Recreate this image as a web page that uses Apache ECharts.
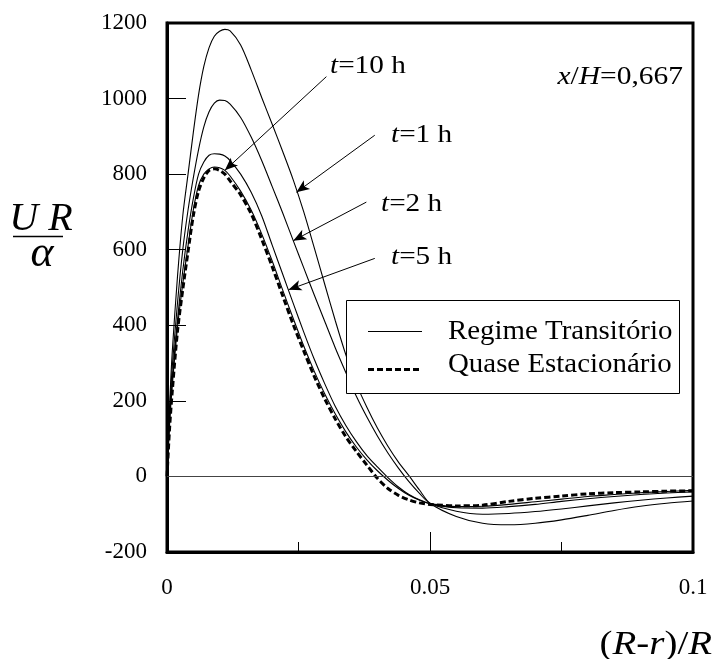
<!DOCTYPE html>
<html>
<head>
<meta charset="utf-8">
<script src="https://cdn.jsdelivr.net/npm/echarts@6/dist/echarts.min.js"></script>
<style>
html, body { margin: 0; padding: 0; background: #fff; }
#chart { width: 713px; height: 659px; }
</style>
</head>
<body>
<div id="chart"></div>
<script>
// (R-r)/R positions where the curves were read
var xs = [0, 0.0005, 0.001, 0.002, 0.003, 0.004, 0.005, 0.006, 0.007, 0.008, 0.009, 0.010, 0.011, 0.012,
          0.014, 0.016, 0.018, 0.020, 0.022, 0.024, 0.026, 0.028, 0.030, 0.032, 0.034, 0.036, 0.038,
          0.040, 0.042, 0.044, 0.046, 0.048, 0.050, 0.055, 0.060, 0.065, 0.070, 0.075, 0.080, 0.085,
          0.090, 0.095, 0.100];

// U R / alpha, regime transitorio
var t1h = [0, 190, 330, 530, 690, 800, 910, 1010, 1085, 1135, 1165, 1178, 1183, 1179,
           1142, 1076, 1003, 932, 860, 785, 700, 605, 508, 412, 322, 245, 183,
           128, 80, 38, 2, -36, -71, -106, -124, -128, -124, -115, -103, -90,
           -79, -71, -65];
var t2h = [0, 170, 290, 460, 600, 705, 790, 865, 925, 965, 988, 996, 995, 985,
           950, 898, 836, 767, 697, 624, 552, 480, 410, 340, 275, 212, 157,
           107, 62, 22, -14, -45, -71, -92, -100, -98, -93, -86, -78, -70,
           -63, -57, -52];
var t5h = [0, 150, 255, 415, 545, 650, 735, 800, 832, 850, 854, 853, 848, 836,
           800, 752, 690, 612, 535, 458, 382, 310, 245, 185, 135, 92, 55,
           25, -3, -28, -48, -62, -72, -83, -84, -80, -74, -66, -59, -53,
           -48, -44, -41];
var t10h = [0, 140, 240, 395, 510, 610, 705, 770, 800, 814, 819, 817, 810, 795,
            755, 705, 642, 570, 493, 418, 345, 278, 218, 165, 118, 78, 44,
            15, -10, -32, -50, -63, -72, -80, -79, -74, -67, -60, -53, -48,
            -43, -40, -37];
// quase estacionario
var quase = [0, 130, 225, 385, 495, 595, 690, 755, 790, 810, 814, 810, 800, 782,
             745, 695, 628, 555, 478, 402, 332, 265, 205, 152, 105, 66, 30,
             -5, -32, -50, -62, -70, -74, -78, -76, -66, -58, -52, -46, -43,
             -41, -39, -38];

// arrows: [from x, from y, to x, to y] in data units
var arrows = [
  [0.0303, 1058, 0.0110, 810],   // t=10 h
  [0.0395, 903, 0.0246, 752],    // t=1 h
  [0.0379, 726, 0.0240, 624],    // t=2 h
  [0.0395, 577, 0.0231, 494]     // t=5 h
];

var xTickLabels = {0: '0', 0.05: '0.05', 0.1: '0.1'};

function pairs(ys) {
  return xs.map(function (x, i) { return [x, ys[i]]; });
}

var serif = 'Liberation Serif';
var myChart = echarts.init(document.getElementById('chart'));

var solid = {color: '#000', width: 1.1, type: 'solid'};
var series = [t1h, t2h, t5h, t10h].map(function (ys) {
  return {
    type: 'line',
    data: pairs(ys),
    showSymbol: false,
    smooth: 0.3,
    lineStyle: solid,
    silent: true,
    z: 3
  };
});
series.push({
  type: 'line',
  data: pairs(quase),
  showSymbol: false,
  smooth: 0.3,
  lineStyle: {color: '#000', width: 3, type: [6, 3]},
  silent: true,
  z: 4
});
// arrows
series[0].markLine = {
  silent: true,
  symbol: ['none', 'arrow'],
  symbolSize: [8, 13],
  label: {show: false},
  lineStyle: {color: '#000', width: 1, type: 'solid'},
  emphasis: {disabled: true},
  data: arrows.map(function (a) {
    return [{coord: [a[0], a[1]]}, {coord: [a[2], a[3]]}];
  })
};
// zero line
series[1].markLine = {
  silent: true,
  symbol: ['none', 'none'],
  label: {show: false},
  lineStyle: {color: '#444', width: 1, type: 'solid'},
  emphasis: {disabled: true},
  data: [{yAxis: 0}]
};

function label(txt, x, y, size, sx, align) {
  return {
    type: 'text', z: 20, x: x, y: y, scaleX: sx,
    style: {
      text: txt, font: size + 'px "Liberation Serif"', fill: '#000',
      textAlign: align || 'left', textVerticalAlign: 'middle',
      rich: {i: {fontStyle: 'italic', fontSize: size, fontFamily: serif}}
    }
  };
}

var option = {
  backgroundColor: '#fff',
  animation: false,
  grid: {
    left: 167, right: 20, top: 23, bottom: 107,
    show: true, borderColor: '#000', borderWidth: 3, backgroundColor: 'transparent'
  },
  xAxis: {
    type: 'value',
    min: 0, max: 0.1, interval: 0.05,
    axisLine: {show: true, onZero: false, lineStyle: {color: '#000', width: 3}},
    axisTick: {show: true, inside: true, length: 20, lineStyle: {color: '#000', width: 1}},
    minorTick: {show: true, splitNumber: 2, length: 10, lineStyle: {color: '#000', width: 1}},
    splitLine: {show: false},
    axisLabel: {
      margin: 24, color: '#000', fontFamily: serif, fontSize: 23,
      formatter: function (v) { return xTickLabels[v] !== undefined ? xTickLabels[v] : ''; }
    }
  },
  yAxis: {
    type: 'value',
    min: -200, max: 1200, interval: 200,
    axisLine: {show: true, lineStyle: {color: '#000', width: 3}},
    axisTick: {show: true, inside: true, length: 19, lineStyle: {color: '#000', width: 1}},
    splitLine: {show: false},
    axisLabel: {margin: 20, color: '#000', fontFamily: serif, fontSize: 23,
                formatter: function (v) { return String(v); }}
  },
  series: series,
  graphic: [
    // legend box
    {type: 'rect', z: 50, shape: {x: 346.5, y: 300.5, width: 333, height: 93},
     style: {fill: '#fff', stroke: '#000', lineWidth: 1}},
    {type: 'line', z: 51, shape: {x1: 368, y1: 331.5, x2: 422, y2: 331.5},
     style: {stroke: '#000', lineWidth: 1.2}},
    {type: 'line', z: 51, shape: {x1: 368, y1: 369.5, x2: 422, y2: 369.5},
     style: {stroke: '#000', lineWidth: 3, lineDash: [6, 3]}},
    Object.assign(label('Regime Transitório', 448, 332, 27, 1.07), {z: 51}),
    Object.assign(label('Quase Estacionário', 448, 365, 27, 1.07), {z: 51}),
    // curve labels
    label('{i|t}=10 h', 330, 66, 25, 1.17),
    label('{i|t}=1 h', 391, 135, 25, 1.17),
    label('{i|t}=2 h', 381, 204, 25, 1.17),
    label('{i|t}=5 h', 391, 257, 25, 1.17),
    label('{i|x}/{i|H}=0,667', 683, 77, 25, 1.18, 'right'),
    // y axis title
    {type: 'text', z: 20, x: 41, y: 219,
     style: {text: 'U R', font: 'italic 40px "Liberation Serif"', fill: '#000',
             textAlign: 'center', textVerticalAlign: 'middle'}},
    {type: 'line', z: 20, shape: {x1: 13, y1: 236.5, x2: 63, y2: 236.5},
     style: {stroke: '#000', lineWidth: 1.5}},
    {type: 'text', z: 20, x: 42, y: 254,
     style: {text: 'α', font: 'italic 44px "Liberation Serif"', fill: '#000',
             textAlign: 'center', textVerticalAlign: 'middle'}},
    // x axis title
    label('({i|R}-{i|r})/{i|R}', 712, 645, 33, 1.18, 'right')
  ]
};
myChart.setOption(option);
</script>
</body>
</html>
